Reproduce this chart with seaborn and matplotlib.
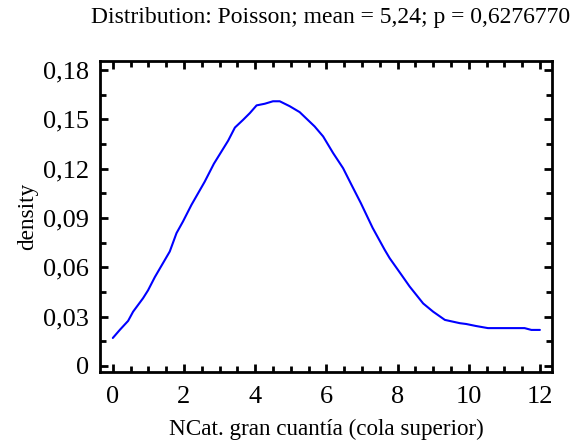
import numpy as np
import pandas as pd
import matplotlib
matplotlib.use("Agg")
import matplotlib.pyplot as plt
import seaborn as sns
from matplotlib.ticker import MultipleLocator, FuncFormatter

x_vals = [0.0, 0.2, 0.43, 0.57, 0.85, 0.99, 1.18, 1.6, 1.79, 1.97, 2.21, 2.58, 2.84, 3.24,
          3.43, 3.66, 3.85, 4.04, 4.27, 4.5, 4.69, 4.97, 5.25, 5.67, 5.91, 6.19, 6.47,
          6.71, 6.97, 7.3, 7.64, 7.78, 8.11, 8.34, 8.72, 9.0, 9.33, 9.75, 9.93, 10.2,
          10.54, 11.57, 11.76, 12.0]
density = [0.017, 0.022, 0.0274, 0.033, 0.0412, 0.046, 0.054, 0.0696, 0.0808, 0.0878,
           0.098, 0.112, 0.123, 0.137, 0.145, 0.1497, 0.1538, 0.1585, 0.1595, 0.161,
           0.161, 0.158, 0.1544, 0.1457, 0.1396, 0.1295, 0.1203, 0.110, 0.099, 0.084,
           0.0706, 0.0655, 0.0554, 0.0483, 0.038, 0.033, 0.028, 0.026, 0.0255, 0.0243,
           0.023, 0.023, 0.0219, 0.0219]
x_ticks = [0, 2, 4, 6, 8, 10, 12]
y_ticks = [0, 0.03, 0.06, 0.09, 0.12, 0.15, 0.18]
title = "Distribution: Poisson; mean = 5,24; p = 0,6276770"
xlabel = "NCat. gran cuantía (cola superior)"
ylabel = "density"

sns.set_style("white", {"text.color": "black", "axes.labelcolor": "black",
                        "xtick.color": "black", "ytick.color": "black",
                        "axes.edgecolor": "black"})
plt.rcParams['font.family'] = ['Liberation Serif', 'DejaVu Serif']

fig = plt.figure(figsize=(5.71, 4.45), dpi=100)
ax = fig.add_axes([100/571, 1-372/445, 452/571, 311/445])
df = pd.DataFrame({"x": x_vals, "y": density})
sns.lineplot(data=df, x="x", y="y", ax=ax, color="#0000ff", linewidth=1.5)

ax.set_xlim(-0.36, 12.34)
ax.set_ylim(-0.0037, 0.1855)
ax.set_xticks(x_ticks)
ax.set_yticks(y_ticks)
ax.xaxis.set_minor_locator(MultipleLocator(0.5))
ax.yaxis.set_minor_locator(MultipleLocator(0.015))

def fmt(v, pos):
    if abs(v) < 1e-12:
        return "0"
    return f"{v:.2f}".replace(".", ",")
ax.yaxis.set_major_formatter(FuncFormatter(fmt))
ax.xaxis.set_major_formatter(FuncFormatter(lambda v, p: f"{int(round(v))}"))

for s in ax.spines.values():
    s.set_linewidth(2)
    s.set_color("black")
ax.tick_params(which="both", direction="in", top=True, right=True, bottom=True, left=True,
               color="black", labelcolor="black")
ax.tick_params(which="major", length=6, width=2, labelsize=19)
ax.tick_params(axis="y", which="major", pad=8)
ax.tick_params(axis="x", which="major", pad=10)
ax.tick_params(which="minor", length=4, width=2)

ax.set_xlabel(xlabel, fontsize=16.7, labelpad=8, color="black")
ax.set_ylabel(ylabel, fontsize=16.7, labelpad=3, color="black")
fig.text(331/571, 1-17/445, title, ha="center", va="center", fontsize=17, color="black")

fig.savefig("out.png", dpi=100)
